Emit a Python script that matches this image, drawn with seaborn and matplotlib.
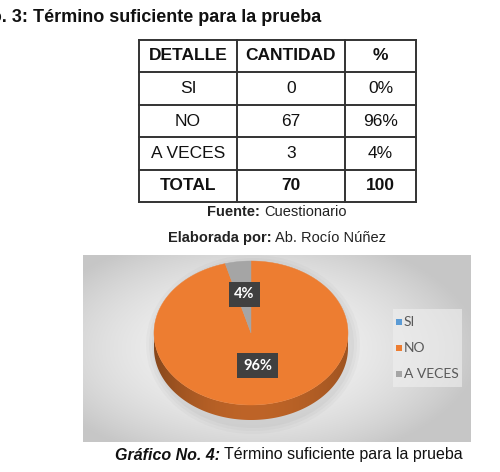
import numpy as np
import matplotlib
matplotlib.use("Agg")
import matplotlib.pyplot as plt
import seaborn as sns
from matplotlib.patches import Polygon, Rectangle, Ellipse
from matplotlib.colors import to_rgb

# ---------------- data ----------------
table_header = ["DETALLE", "CANTIDAD", "%"]
categories = ["SI", "NO", "A VECES"]
counts = [0, 67, 3]
percents = ["0%", "96%", "4%"]
total_row = ["TOTAL", "70", "100"]
pie_labels = ["", "96%", "4%"]
colors = ["#5B9BD5", "#ED7D31", "#A5A5A5"]

title_text = "Tabla No. 3: Término suficiente para la prueba"
source_bold, source_rest = "Fuente:", "Cuestionario"
author_bold, author_rest = "Elaborada por:", "Ab. Rocío Núñez"
caption_bold, caption_rest = "Gráfico No. 4:", "Término suficiente para la prueba"

# ---------------- setup ----------------
sns.set_theme(style="white")
plt.rcParams["font.family"] = ["Liberation Sans", "DejaVu Sans"]

W, H = 500, 472
fig = plt.figure(figsize=(W / 100, H / 100), dpi=100)
fig.patch.set_facecolor("white")
ax = fig.add_axes([0, 0, 1, 1])
ax.set_xlim(0, W)
ax.set_ylim(H, 0)
ax.axis("off")
fig.canvas.draw()
renderer = fig.canvas.get_renderer()


def runs(x, y, parts, size, ha="left", family=None, color="black"):
    """Place consecutive text runs [(text, weight, style), ...]."""
    kw = {} if family is None else {"family": family}
    widths = []
    for s, w, st in parts:
        t = ax.text(0, 0, s, fontsize=size, fontweight=w, fontstyle=st, **kw)
        widths.append(t.get_window_extent(renderer).width)
        t.remove()
    gap = size * 0.35
    total = sum(widths) + gap * (len(parts) - 1)
    if ha == "center":
        x = x - total / 2
    elif ha == "right":
        x = x - total
    for (s, w, st), wd in zip(parts, widths):
        ax.text(x, y, s, fontsize=size, fontweight=w, fontstyle=st, color=color,
                ha="left", va="center", **kw)
        x += wd + gap


# ---------------- title (left part clipped as in the source page) ----------------
ax.text(321, 18, title_text, fontsize=13, fontweight="bold", ha="right", va="center",
        color="#111111")

# ---------------- table ----------------
col_x = [139, 237, 345, 416]
row_y = [40, 72, 105, 137, 170, 202]
lc = "#333333"
for xx in col_x:
    ax.plot([xx, xx], [row_y[0], row_y[-1]], color=lc, lw=1.4, solid_capstyle="projecting")
for yy in row_y:
    ax.plot([col_x[0], col_x[-1]], [yy, yy], color=lc, lw=1.4, solid_capstyle="projecting")

rows = [table_header] + [[c, str(n), p] for c, n, p in zip(categories, counts, percents)] + [total_row]
for i, row in enumerate(rows):
    yc = (row_y[i] + row_y[i + 1]) / 2
    bold = i == 0 or i == len(rows) - 1
    for j, cell in enumerate(row):
        xc = (col_x[j] + col_x[j + 1]) / 2
        ax.text(xc, yc, cell, fontsize=12.5, fontweight="bold" if bold else "normal",
                ha="center", va="center", color="#111111")

runs(277, 212, [(source_bold, "bold", "normal"), (source_rest, "normal", "normal")], 10.5,
     ha="center", color="#222222")
runs(277, 238, [(author_bold, "bold", "normal"), (author_rest, "normal", "normal")], 10.5,
     ha="center", color="#222222")

# ---------------- chart background ----------------
bx0, bx1, by0, by1 = 83, 471, 255, 442
nx, ny = 200, 100
gx = np.linspace(-1, 1, nx)
gy = np.linspace(-1, 1, ny)
GX, GY = np.meshgrid(gx, gy)
r2 = ((GX + 0.12) / 1.0) ** 2 + (GY / 1.1) ** 2
val = np.clip(0.955 - 0.13 * r2, 0.78, 1)
img = np.dstack([val, val, val])
ax.imshow(img, extent=(bx0, bx1, by1, by0), aspect="auto", zorder=0, interpolation="bilinear")

# ---------------- 3D pie ----------------
cx, cy, rx, ry, th = 251, 333, 97, 72, 15

# soft shadow
for k, a in zip([10, 7, 4], [0.05, 0.06, 0.07]):
    ax.add_patch(Ellipse((cx + 2, cy + th / 2 + 4), 2 * (rx + k), 2 * (ry + k) + th,
                         facecolor="#7f7f7f", edgecolor="none", alpha=a, zorder=1))

vals = np.array(counts, dtype=float)
fr = vals / vals.sum()
start = 90.0
wedges = []
for f in fr:
    end = start - f * 360.0
    wedges.append((start, end))
    start = end


def pt(theta_deg, dy=0.0):
    t = np.deg2rad(theta_deg)
    return cx + rx * np.cos(t), cy - ry * np.sin(t) + dy


# sides (front half only, where sin < 0), shaded by a clipped gradient
for (s, e), col in zip(wedges, colors):
    if s == e:
        continue
    lo, hi = min(s, e), max(s, e)
    base = np.array(to_rgb(col))
    for shift in (-360, 0, 360):
        a0 = max(lo, 180 + shift)
        a1 = min(hi, 360 + shift)
        if a1 <= a0:
            continue
        angs = np.linspace(a0, a1, 200)
        top = [pt(a) for a in angs]
        bot = [pt(a, th) for a in angs[::-1]]
        poly = Polygon(top + bot, closed=True, facecolor="none", edgecolor="none", zorder=2)
        ax.add_patch(poly)
        xs = np.linspace(-1, 1, 300)
        shade = 0.70 + 0.10 * (1 - xs ** 2) - 0.10 * (xs < 0) * xs ** 2 * 1.0 - 0.03 * xs ** 2
        grad = np.clip(base[None, :] * shade[:, None], 0, 1)[None, :, :]
        grad = np.repeat(grad, 4, axis=0)
        im = ax.imshow(grad, extent=(cx - rx, cx + rx, cy + ry + th + 1, cy - 2),
                       aspect="auto", zorder=2, interpolation="bilinear")
        im.set_clip_path(poly)

# top faces
for (s, e), col in zip(wedges, colors):
    if s == e:
        continue
    angs = np.linspace(s, e, max(int(abs(s - e)), 2) + 1)
    p = [(cx, cy)] + [pt(a) for a in angs]
    ax.add_patch(Polygon(p, closed=True, facecolor=col, edgecolor=col, lw=0.3, zorder=3))

# data labels
for (s, e), lab in zip(wedges, pie_labels):
    if not lab:
        continue
    mid = (s + e) / 2
    t = np.deg2rad(mid)
    lx = cx + 0.5 * rx * np.cos(t)
    ly = cy - 0.5 * ry * np.sin(t) - 3
    ax.text(lx, ly, lab, fontsize=10.5, fontweight="bold", color="white",
            family=["Lato", "DejaVu Sans"], ha="center", va="center", zorder=5,
            bbox=dict(boxstyle="square,pad=0.38", facecolor="#404040", edgecolor="none"))

# legend
ax.add_patch(Rectangle((393, 309), 69, 78, facecolor="#f0f0f0", edgecolor="none", alpha=0.6, zorder=3))
leg_y = [322, 348, 374]
for cat, col, yy in zip(categories, colors, leg_y):
    ax.add_patch(Rectangle((396, yy - 3), 6, 6, facecolor=col, edgecolor="none", zorder=4))
    ax.text(404, yy, cat, fontsize=10, color="#595959", family=["Lato", "DejaVu Sans"],
            ha="left", va="center", zorder=4)

# caption
runs(115, 455, [(caption_bold, "bold", "italic"), (caption_rest, "normal", "normal")], 11.5,
     ha="left", color="#111111")

ax.set_xlim(0, W)
ax.set_ylim(H, 0)
fig.savefig("out.png", dpi=100, facecolor="white")
